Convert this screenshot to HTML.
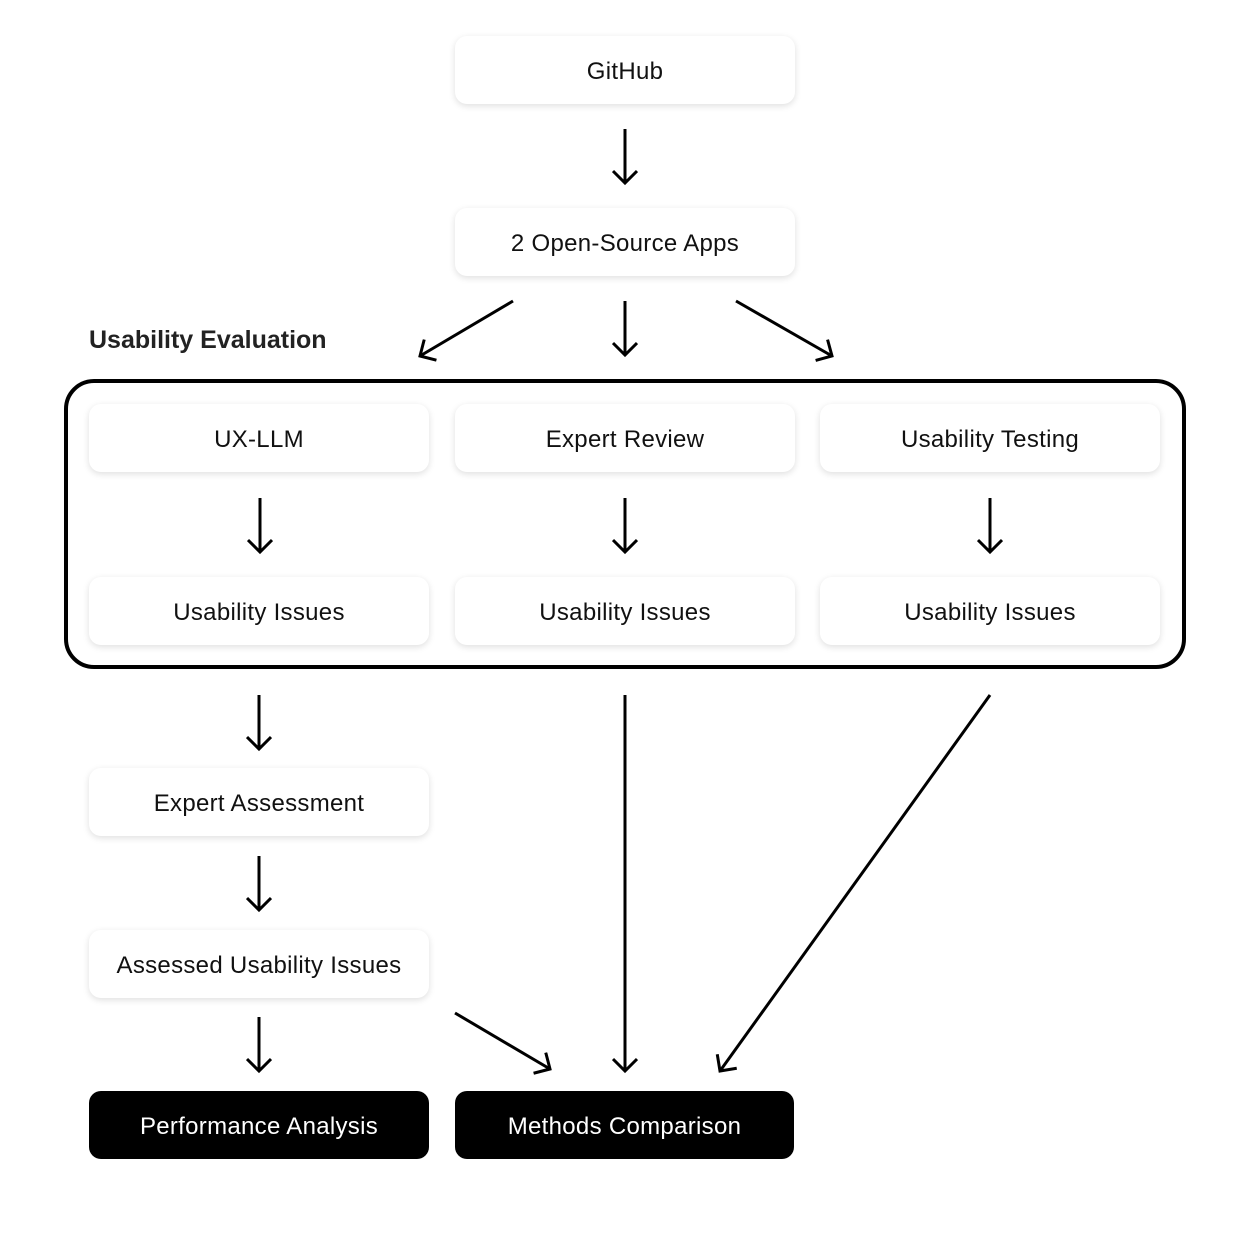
<!DOCTYPE html>
<html><head><meta charset="utf-8"><style>
html,body{margin:0;padding:0;background:#fff;}
body{width:1238px;height:1254px;position:relative;overflow:hidden;font-family:"Liberation Sans",sans-serif;}
.b{position:absolute;width:340px;height:68px;box-sizing:border-box;padding-top:3px;border-radius:12px;background:#fff;box-shadow:0 2px 7px rgba(0,0,0,0.13);display:flex;align-items:center;justify-content:center;font-size:24px;color:#111;letter-spacing:0.3px;}
.k{background:#000;color:#fff;box-shadow:none;}
.lbl{position:absolute;left:89px;top:326px;font-size:25px;font-weight:bold;color:#222;}
svg{position:absolute;left:0;top:0;}
</style></head><body>
<svg width="1238" height="1254">
<defs><marker id="a" markerWidth="20" markerHeight="26" refX="14" refY="13" orient="auto" markerUnits="userSpaceOnUse"><path d="M2,1 L14,13 L2,25" fill="none" stroke="#000" stroke-width="3"/></marker></defs>
<rect x="66" y="381" width="1118" height="286" rx="28" fill="none" stroke="#000" stroke-width="4"/>
<g stroke="#000" stroke-width="3" fill="none" marker-end="url(#a)">
<line x1="625" y1="129" x2="625" y2="183"/>
<line x1="513" y1="301" x2="420" y2="356"/>
<line x1="625" y1="301" x2="625" y2="355"/>
<line x1="736" y1="301" x2="832" y2="356"/>
<line x1="260" y1="498" x2="260" y2="552"/>
<line x1="625" y1="498" x2="625" y2="552"/>
<line x1="990" y1="498" x2="990" y2="552"/>
<line x1="259" y1="695" x2="259" y2="749"/>
<line x1="625" y1="695" x2="625" y2="1071"/>
<line x1="990" y1="695" x2="720" y2="1071"/>
<line x1="259" y1="856" x2="259" y2="910"/>
<line x1="259" y1="1017" x2="259" y2="1071"/>
<line x1="455" y1="1013" x2="550" y2="1069"/>
</g></svg>
<div class="b" style="left:455px;top:36px">GitHub</div>
<div class="b" style="left:455px;top:208px">2 Open-Source Apps</div>
<div class="lbl">Usability Evaluation</div>
<div class="b" style="left:89px;top:404px">UX-LLM</div>
<div class="b" style="left:455px;top:404px">Expert Review</div>
<div class="b" style="left:820px;top:404px">Usability Testing</div>
<div class="b" style="left:89px;top:577px">Usability Issues</div>
<div class="b" style="left:455px;top:577px">Usability Issues</div>
<div class="b" style="left:820px;top:577px">Usability Issues</div>
<div class="b" style="left:89px;top:768px">Expert Assessment</div>
<div class="b" style="left:89px;top:930px">Assessed Usability Issues</div>
<div class="b k" style="left:89px;top:1091px">Performance Analysis</div>
<div class="b k" style="left:455px;top:1091px;width:339px">Methods Comparison</div>
</body></html>
